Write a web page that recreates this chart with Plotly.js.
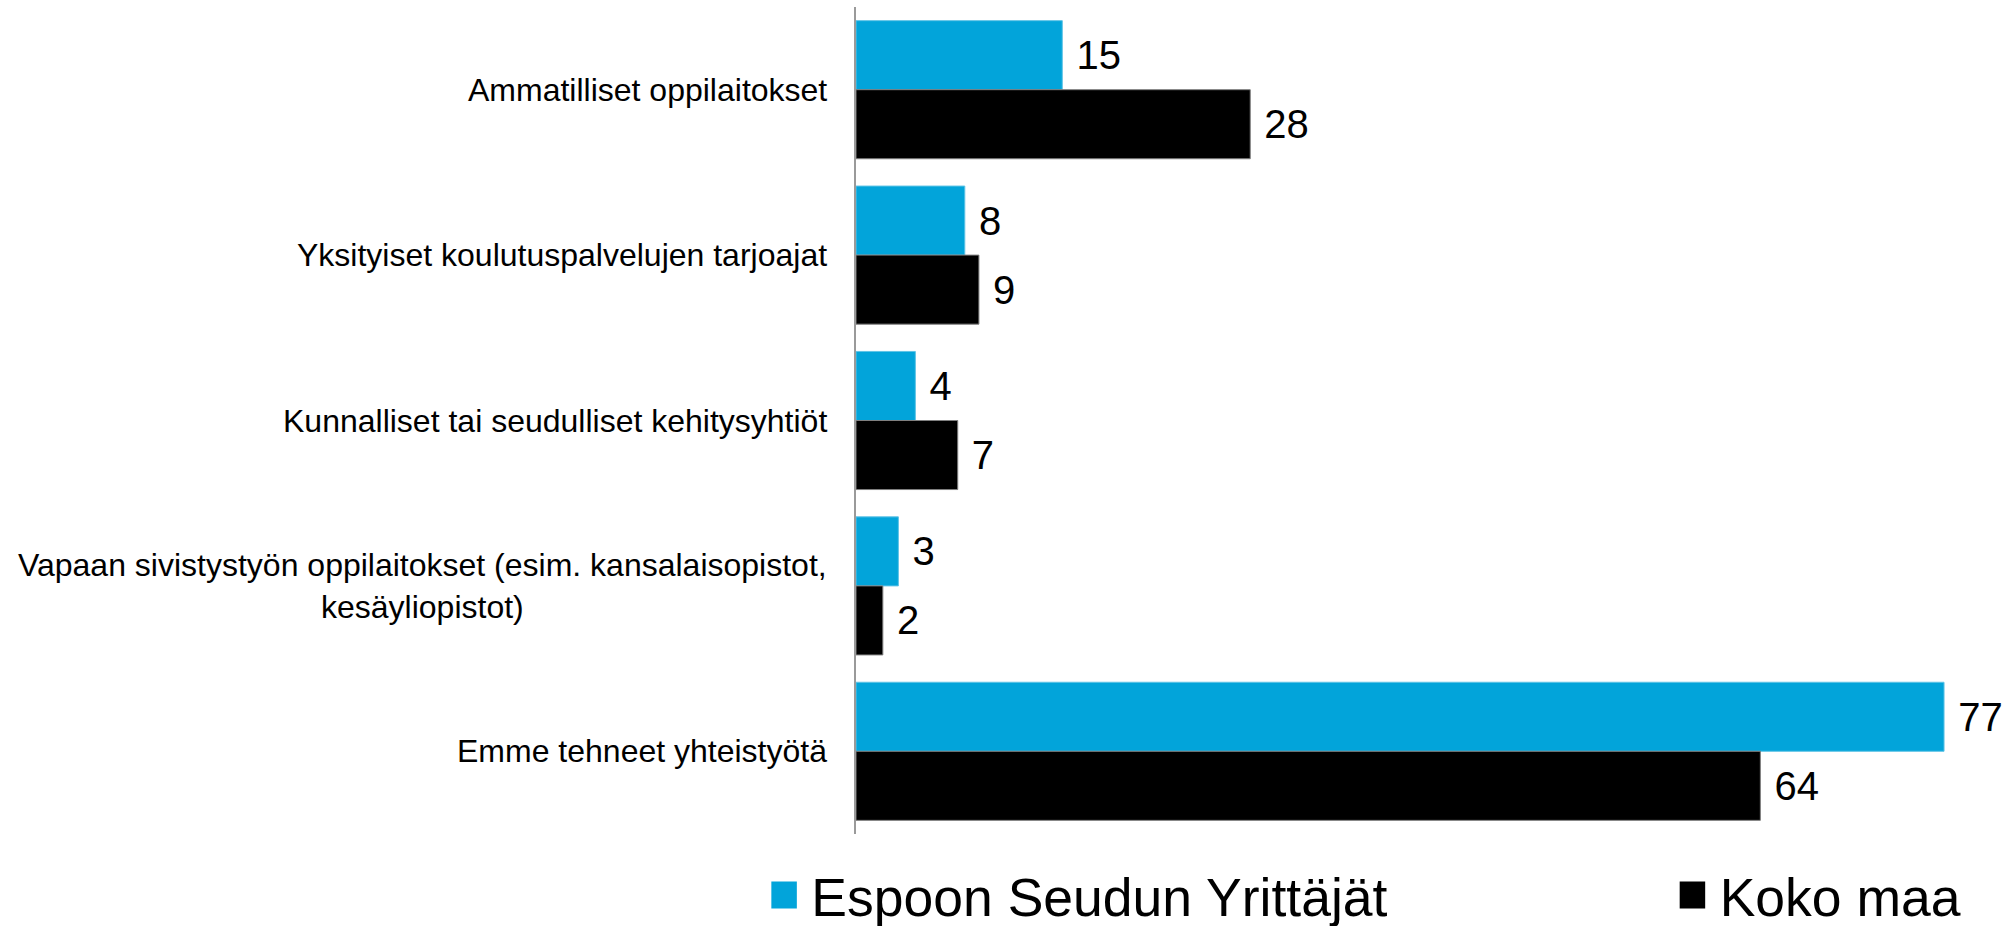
<!DOCTYPE html>
<html>
<head>
<meta charset="utf-8">
<script src="https://cdn.plot.ly/plotly-3.0.1.min.js"></script>
<style>
html, body { margin: 0; padding: 0; background: #ffffff; }
#chart { width: 2010px; height: 926px; }
</style>
</head>
<body>
<div id="chart"></div>
<script>
const categories = [
  "Ammatilliset oppilaitokset",
  "Yksityiset koulutuspalvelujen tarjoajat",
  "Kunnalliset tai seudulliset kehitysyhtiöt",
  "Vapaan sivistystyön oppilaitokset (esim. kansalaisopistot,<br>kesäyliopistot)",
  "Emme tehneet yhteistyötä"
];
const espooValues = [14.6, 7.7, 4.2, 3.0, 77.0];
const kokoMaaValues = [27.9, 8.7, 7.2, 1.9, 64.0];
const seriesNames = ["Espoon Seudun Yrittäjät", "Koko maa"];
const seriesColors = ["#02A4DA", "#000000"];

const FONT = "Arial, 'Liberation Sans', sans-serif";

function barTrace(values, i, legendId) {
  return {
    type: "bar",
    orientation: "h",
    name: seriesNames[i],
    y: categories,
    x: values,
    legend: legendId,
    marker: { color: seriesColors[i], line: { color: i === 0 ? "#5fc3e6" : "#7f7f7f", width: 1 } },
    texttemplate: "\u00a0%{x:.0f}",
    textposition: "outside",
    textfont: { family: FONT, size: 40, color: "#000000" },
    cliponaxis: false,
    hoverinfo: "x+y"
  };
}

const data = [
  barTrace(espooValues, 0, "legend"),
  barTrace(kokoMaaValues, 1, "legend2")
];

const annotations = categories.map(c => ({
  xref: "paper", x: 0, xanchor: "right", xshift: -27,
  yref: "y", y: c, yanchor: "middle",
  text: c, showarrow: false, align: "center",
  font: { family: FONT, size: 32, color: "#000000" }
}));

const legendBase = {
  orientation: "h",
  yanchor: "middle",
  y: -0.074,
  xanchor: "left",
  font: { family: FONT, size: 53.5, color: "#000000" },
  bgcolor: "rgba(0,0,0,0)",
  borderwidth: 0,
  itemclick: false
};

const layout = {
  width: 2010,
  height: 926,
  margin: { l: 856, r: 10, t: 7, b: 92, pad: 0, autoexpand: false },
  paper_bgcolor: "#ffffff",
  plot_bgcolor: "#ffffff",
  font: { family: FONT, color: "#000000" },
  barmode: "group",
  bargap: 0.165,
  bargroupgap: 0,
  showlegend: true,
  legend: Object.assign({}, legendBase, { x: -0.074 }),
  legend2: Object.assign({}, legendBase, { x: 0.72 }),
  xaxis: {
    range: [0, 80.96],
    showgrid: false,
    zeroline: false,
    showline: false,
    showticklabels: false,
    ticks: ""
  },
  yaxis: {
    type: "category",
    autorange: "reversed",
    showgrid: false,
    zeroline: false,
    showline: true,
    linecolor: "#9a9a9a",
    linewidth: 2,
    showticklabels: false,
    ticks: ""
  },
  annotations: annotations
};

function enlargeSwatches(gd) {
  // larger legend squares, as in the reference
  gd.querySelectorAll(".legendpoints path").forEach(function (p) {
    p.setAttribute("d", "M5.5,13.5H-21.5V-13.5H5.5Z");
    p.style.strokeWidth = "0px";
  });
}

const gd = document.getElementById("chart");
Plotly.newPlot(gd, data, layout, { displayModeBar: false }).then(function () {
  enlargeSwatches(gd);
  gd.on("plotly_afterplot", function () { enlargeSwatches(gd); });
  setTimeout(function () { enlargeSwatches(gd); }, 50);
});
</script>
</body>
</html>
